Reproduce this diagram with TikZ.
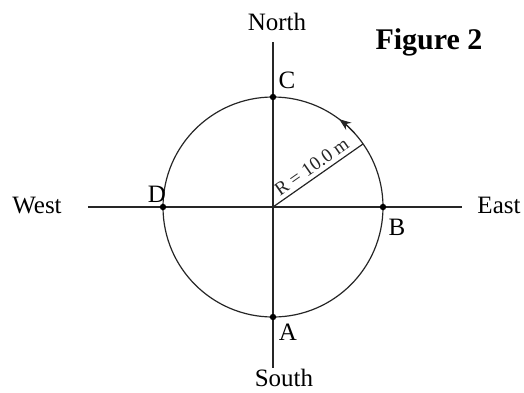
\documentclass[tikz,border=0pt]{standalone}
\usepackage{fontspec}
\setmainfont{Liberation Serif}
\usetikzlibrary{positioning, arrows.meta, calc}

\tikzset{
    axis/.style={line width=0.6pt, black!85},
    ring/.style={line width=0.6pt, black!85},
    dirlabel/.style={inner sep=0pt, font=\fontsize{12.5}{14}\selectfont},
    ptlabel/.style={inner sep=0pt, font=\fontsize{12.5}{14}\selectfont},
    pt/.style={circle, fill=black, inner sep=0pt, minimum size=3.2pt}
}

\begin{document}
\begin{tikzpicture}[x=0.5pt, y=0.5pt]
    \useasboundingbox (-273,-185) rectangle (251,207);
    % centre and end points of the axes
    \coordinate (O) at (0,0);
    \coordinate (top) at (0,165);
    \coordinate (bot) at (0,-161);
    \coordinate (lft) at (-185,0);
    \coordinate (rgt) at (189,0);
    \coordinate (rend) at (35:110);

    % axes
    \draw[axis] (lft) -- (rgt);
    \draw[axis] (top) -- (bot);

    % circle of radius R
    \draw[ring] (O) circle (110);
    \draw[ring, -{Stealth[length=6pt, width=4.5pt]}] (42:110) arc (42:53:110);

    % radius
    \draw[axis] (O) -- (rend)
        node[midway, above=2pt, sloped, inner sep=0pt, font=\fontsize{9.5}{10}\selectfont] {R = 10.0 m};

    % points on the circle
    \node[pt] (ptC) at (90:110) {};
    \node[pt] (ptA) at (270:110) {};
    \node[pt] (ptD) at (180:110) {};
    \node[pt] (ptB) at (0:110) {};

    \node[ptlabel] (labC) at (14,127) {C};
    \node[ptlabel] (labA) at (15,-125) {A};
    \node[ptlabel] (labD) at (-116,13) {D};
    \node[ptlabel] (labB) at (124,-20) {B};

    % compass directions
    \node[dirlabel] (north) at (4,185) {North};
    \node[dirlabel] (south) at (11,-171) {South};
    \node[dirlabel] (west) at (-236,2) {West};
    \node[dirlabel] (east) at (226,2) {East};

    \node[inner sep=0pt, font=\fontsize{15}{17}\selectfont\bfseries] (fig) at (156,165) {Figure 2};
\end{tikzpicture}
\end{document}
